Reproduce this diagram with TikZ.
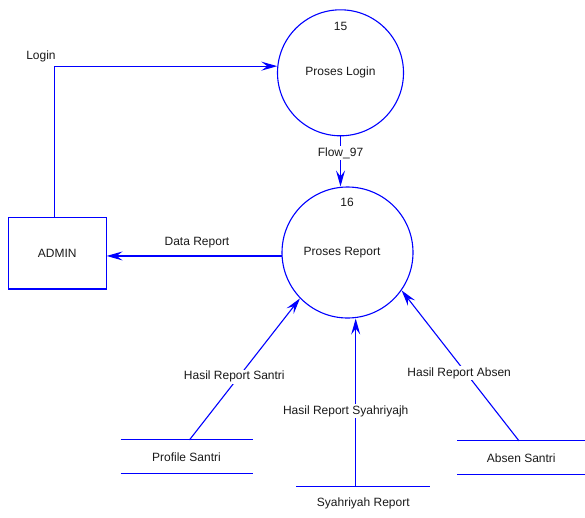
\documentclass[tikz,border=0pt]{standalone}
\usepackage{fontspec}
\setmainfont{Liberation Sans}
\usetikzlibrary{arrows.meta}
\begin{document}
\begin{tikzpicture}[x=1pt,y=-1pt,
  every node/.style={font=\fontsize{12}{14}\selectfont, text=black!90},
  flow/.style={draw=blue, line width=1.1pt, -{Stealth[length=16pt,width=9pt,inset=6pt]}},
  proc/.style={circle, draw=blue, line width=1.1pt, inner sep=0pt},
  ent/.style={rectangle, draw=blue, line width=1.1pt, inner sep=0pt},
  storebox/.style={rectangle, inner sep=0pt, minimum height=33.3pt},
  storeline/.style={draw=blue, line width=1.1pt},
  lbl/.style={fill=white, inner sep=1.5pt}]
\useasboundingbox (0,0) rectangle (585,517);
% processes
\node[proc, minimum size=126pt] (p15) at (340.5,72.8) {};
\node at (340.5,26) {15};
\node at (340.5,72) {Proses Login};
\node[proc, minimum size=131pt] (p16) at (347.5,252.5) {};
\node at (347,202) {16};
\node at (342,252.7) {Proses Report};
% entity
\node[ent, minimum width=97.7pt, minimum height=71.3pt] (admin) at (57.2,253.3) {ADMIN};
% stores
\node[storebox, minimum width=131.6pt] (ps) at (186.5,456.7) {Profile Santri};
\draw[storeline] (ps.north west) -- (ps.north east) (ps.south west) -- (ps.south east);
\node[storebox, minimum width=133.3pt] (sr) at (363.3,503.3) {Syahriyah Report};
\draw[storeline] (sr.north west) -- (sr.north east);
\node[storebox, minimum width=127.3pt] (as) at (521.3,457.7) {Absen Santri};
\draw[storeline] (as.north west) -- (as.north east) (as.south west) -- (as.south east);
% connection points
\coordinate (admintop) at ([xshift=-3pt]admin.north);
\coordinate (pstop) at ([xshift=3pt]ps.north);
\coordinate (srtop) at ([xshift=-7.6pt]sr.north);
\coordinate (astop) at ([xshift=-2.3pt]as.north);
% flows
\draw[flow] (admintop) |- (p15.174);
\node at (41,56) {Login};
\draw[flow] (p15.south) -- (p15.south |- p16.north) node[lbl, pos=0.33] {Flow\_97};
\draw[flow] (p16.183) -- (p16.183 -| admin.east);
\node at (197,243) {Data Report};
\draw[flow] (pstop) -- (p16.224) node[lbl, pos=0.446, xshift=-4.5pt] {Hasil Report Santri};
\draw[flow] (srtop) -- (srtop |- p16.south) node[lbl, pos=0.45, xshift=-10pt] {Hasil Report Syahriyajh};
\draw[flow] (astop) -- (p16.325) node[lbl, pos=0.45, xshift=-7pt] {Hasil Report Absen};
\end{tikzpicture}
\end{document}
